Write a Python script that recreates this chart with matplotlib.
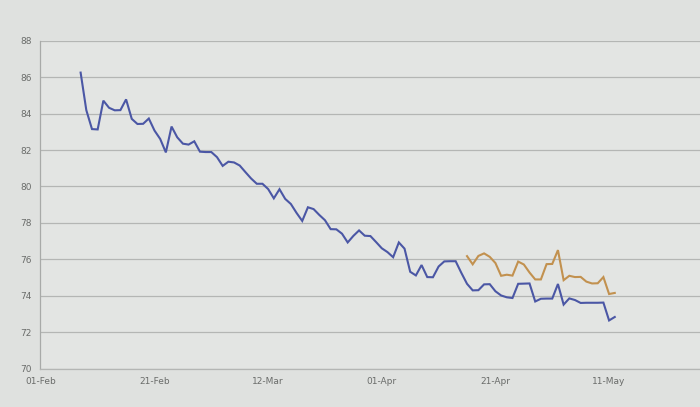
import matplotlib
matplotlib.use("Agg")
import matplotlib.pyplot as plt
import matplotlib.dates as mdates
import pandas as pd

# ---- data ----
blue_start = "2020-02-08"
blue_values = [
    86.25, 84.19, 83.15, 83.13, 84.71, 84.32, 84.18, 84.19, 84.78, 83.71,
    83.43, 83.44, 83.73, 83.07, 82.61, 81.87, 83.29,
    82.70, 82.35, 82.30, 82.48, 81.91, 81.89, 81.89, 81.61, 81.13, 81.36,
    81.32, 81.15, 80.79, 80.44, 80.15, 80.15, 79.86, 79.35, 79.85,
    79.32, 79.04, 78.55, 78.11, 78.86, 78.76, 78.44, 78.15, 77.66, 77.65,
    77.41, 76.93, 77.29, 77.59, 77.30, 77.28, 76.95, 76.61, 76.40,
    76.12, 76.93, 76.59, 75.32, 75.12, 75.69, 75.03, 75.02, 75.61, 75.89,
    75.90, 75.90, 75.26, 74.66, 74.30, 74.31, 74.63, 74.64, 74.25, 74.02,
    73.92, 73.88, 74.66, 74.67, 74.68, 73.69, 73.84, 73.85, 73.85, 74.65,
    73.52, 73.86, 73.77, 73.61, 73.62, 73.62, 73.62, 73.63, 72.65, 72.84,
]
orange_values = [
    76.18, 75.73, 76.19, 76.33, 76.14, 75.80, 75.10, 75.16, 75.11, 75.88,
    75.72, 75.28, 74.90, 74.90, 75.74, 75.75, 76.51, 74.86, 75.10, 75.03,
    75.04, 74.78, 74.68, 74.69, 75.03, 74.10, 74.16,
]
y_ticks = [70, 72, 74, 76, 78, 80, 82, 84, 86, 88]
x_first_tick = "2020-02-01"
x_last = "2020-05-27"

blue_dates = pd.date_range(blue_start, periods=len(blue_values), freq="D")
orange_dates = blue_dates[-len(orange_values):]

# ---- figure ----
bg = "#dfe1df"
fig = plt.figure(figsize=(7.0, 4.07), dpi=100, facecolor=bg)
ax = fig.add_axes([0.057, 0.094, 0.943, 0.806], facecolor="#e3e5e3")

ax.plot(blue_dates, blue_values, color="#4b57a5", lw=1.5, solid_joinstyle="miter")
ax.plot(orange_dates, orange_values, color="#c2914f", lw=1.5, solid_joinstyle="miter")

ax.set_ylim(y_ticks[0], y_ticks[-1])
ax.set_yticks(y_ticks)
ax.set_yticklabels([str(v) for v in y_ticks])
ax.yaxis.grid(True, color="#b4b6b4", lw=0.9)
ax.set_axisbelow(True)

x0 = pd.Timestamp(x_first_tick)
ax.set_xlim(x0 - pd.Timedelta(hours=4), pd.Timestamp(x_last))
ax.xaxis.set_major_locator(mdates.DayLocator(bymonthday=None, interval=20))
ticks = pd.date_range(x0, pd.Timestamp(x_last), freq="20D")
ax.set_xticks(ticks)
ax.set_xticklabels([t.strftime("%d-%b") for t in ticks])

ax.tick_params(axis="both", length=0, labelsize=6.5, colors="#6a6c6a", pad=6)
for side in ["top", "right"]:
    ax.spines[side].set_visible(False)
ax.spines["left"].set_color("#a8aaa8")
ax.spines["bottom"].set_color("#b4b6b4")
ax.spines["left"].set_linewidth(0.9)
ax.spines["bottom"].set_linewidth(0.9)

fig.savefig("out.png", dpi=100, facecolor=bg)
